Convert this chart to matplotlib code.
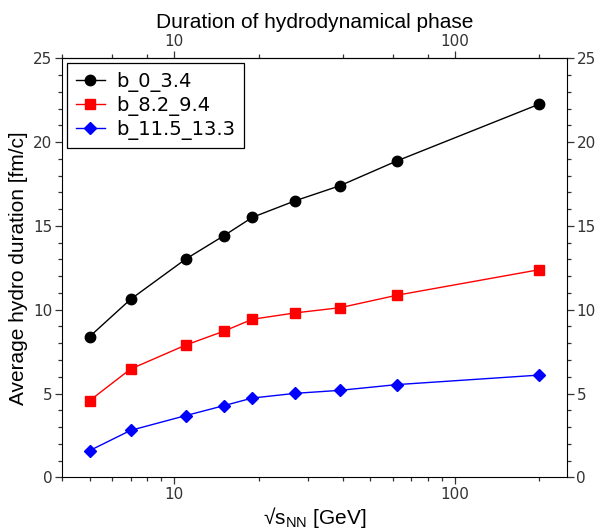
import matplotlib
matplotlib.use("Agg")
import matplotlib.pyplot as plt
from matplotlib.ticker import LogLocator, MultipleLocator, ScalarFormatter, NullFormatter, FixedLocator

energies = [5, 7, 11, 15, 19, 27, 39, 62, 200]
b_0_3_4 = [8.39, 10.62, 13.02, 14.40, 15.51, 16.50, 17.40, 18.87, 22.27]
b_8_2_9_4 = [4.57, 6.46, 7.89, 8.71, 9.43, 9.81, 10.12, 10.86, 12.39]
b_11_5_13_3 = [1.59, 2.80, 3.68, 4.27, 4.73, 5.01, 5.19, 5.53, 6.10]
labels = ["b_0_3.4", "b_8.2_9.4", "b_11.5_13.3"]

fig = plt.figure(figsize=(5.99, 5.30), dpi=100)
ax = fig.add_axes([0.104, 0.0994, 0.842, 0.7906])

ax.plot(energies, b_0_3_4, color="black", marker="o", markersize=7.5, lw=1, label=labels[0])
ax.plot(energies, b_8_2_9_4, color="red", marker="s", markersize=7, lw=1, label=labels[1])
ax.plot(energies, b_11_5_13_3, color="blue", marker="D", markersize=6, lw=1, label=labels[2])

ax.set_xscale("log")
ax.set_xlim(4, 250)
ax.set_ylim(0, 25)
ax.yaxis.set_major_locator(MultipleLocator(5))
ax.yaxis.set_minor_locator(MultipleLocator(1))
ax.xaxis.set_major_locator(FixedLocator([10, 100]))
ax.xaxis.set_major_formatter(ScalarFormatter())
ax.xaxis.set_minor_locator(LogLocator(base=10, subs=range(2, 10)))
ax.xaxis.set_minor_formatter(NullFormatter())

tc = "#333333"
ax.tick_params(which="major", direction="out", length=5, width=0.9, color=tc, labelcolor=tc, labelsize=11,
               right=True, labelright=True, pad=2)
ax.tick_params(which="minor", direction="out", length=3, width=0.9, color=tc, right=True)

sec = ax.secondary_xaxis("top")
sec.set_xscale("log")
sec.xaxis.set_major_locator(FixedLocator([10, 100]))
sec.xaxis.set_major_formatter(ScalarFormatter())
sec.xaxis.set_minor_locator(LogLocator(base=10, subs=[2, 4, 6, 8]))
sec.xaxis.set_minor_formatter(NullFormatter())
sec.tick_params(which="major", direction="out", length=5, width=0.9, color=tc, labelcolor=tc, labelsize=11, pad=2)
sec.tick_params(which="minor", direction="out", length=3, width=0.9, color=tc)
sec.set_xlabel("Duration of hydrodynamical phase", fontsize=15, family="Liberation Sans", labelpad=4)

ax.set_xlabel("√s$_{\\mathregular{NN}}$ [GeV]", fontsize=15, family="Liberation Sans", labelpad=2)
ax.set_ylabel("Average hydro duration [fm/c]", fontsize=15, family="Liberation Sans", labelpad=4)

leg = ax.legend(loc="upper left", fontsize=14, frameon=True, fancybox=False, edgecolor="black",
                framealpha=1, labelspacing=0.2, handlelength=1.5, borderaxespad=0.25,
                handletextpad=0.6, borderpad=0.45)
leg.get_frame().set_linewidth(0.9)

fig.savefig("out.png", dpi=100)
